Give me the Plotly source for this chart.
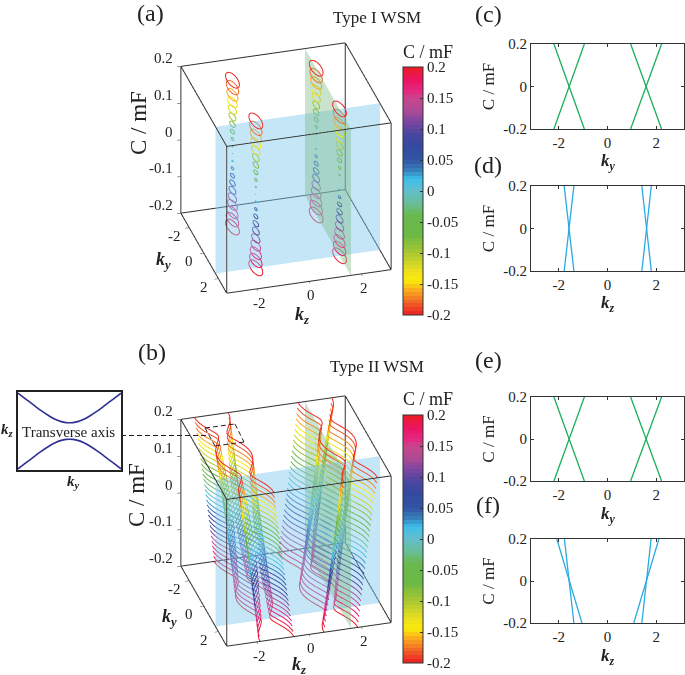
import numpy as np
import plotly.graph_objects as go

FONT = "Liberation Serif"
W, H = 685, 675
PI = 3.14159

# ---------- data ----------
cb_values = [-0.2,-0.18,-0.16,-0.145,-0.13,-0.1,-0.07,-0.04,-0.02,0,0.02,0.035,0.05,0.07,0.09,0.11,0.13,0.15,0.16,0.18,0.2]
cb_r = [237,240,250,250,240,170,105,105,105,100,60,55,50,50,70,120,175,200,230,236,237]
cb_g = [30,100,170,235,225,200,185,185,190,190,190,125,85,75,70,70,75,70,40,20,28]
cb_b = [36,40,30,10,30,50,70,80,150,205,235,185,165,160,160,160,150,140,130,100,36]
cb_ticks = [0.2,0.15,0.1,0.05,0,-0.05,-0.1,-0.15,-0.2]
cb_ticktext = ["0.2","0.15","0.1","0.05","0","-0.05","-0.1","-0.15","-0.2"]

node_kz = [-1.6, 1.6]
node_ky = [-1.6, 1.6]

k_ticks = [-2, 0, 2]
k_ticktext = ["-2", "0", "2"]
c_ticks_3d = [-0.2, -0.1, 0, 0.1, 0.2]
c_ticktext_3d = ["-0.2", "-0.1", "0", "0.1", "0.2"]

# type I rings: level, semi-axis along ky, semi-axis along kz
ring_levels = [0.2,0.18,0.16,0.14,0.12,0.1,0.08,0.06,0.04,0.02,0,-0.02,-0.04,-0.06,-0.08,-0.1,-0.12,-0.14,-0.16,-0.18,-0.2]
ring_semi_ky = [0.62,0.56,0.5,0.43,0.37,0.31,0.25,0.19,0.12,0.06,0.008,0.06,0.12,0.19,0.25,0.31,0.37,0.43,0.5,0.56,0.62]
ring_semi_kz = [0.2,0.18,0.16,0.14,0.12,0.1,0.08,0.06,0.04,0.02,0.008,0.02,0.04,0.06,0.08,0.1,0.12,0.14,0.16,0.18,0.2]

# type II contours: level, shift of the pair, gap at the node
curve_levels = [0.2,0.186,0.171,0.157,0.143,0.129,0.114,0.1,0.086,0.071,0.057,0.043,0.029,0.014,0,
                -0.014,-0.029,-0.043,-0.057,-0.071,-0.086,-0.1,-0.114,-0.129,-0.143,-0.157,-0.171,-0.186,-0.2]
curve_shift = [0.378,0.352,0.323,0.297,0.27,0.244,0.215,0.189,0.163,0.134,0.108,0.081,0.055,0.026,0,
               -0.026,-0.055,-0.081,-0.108,-0.134,-0.163,-0.189,-0.215,-0.244,-0.27,-0.297,-0.323,-0.352,-0.378]
curve_gap = [0.178,0.166,0.152,0.14,0.127,0.115,0.101,0.089,0.077,0.063,0.051,0.038,0.026,0.012,0.002,
             0.012,0.026,0.038,0.051,0.063,0.077,0.089,0.101,0.115,0.127,0.14,0.152,0.166,0.178]
ky_samples = [-3.14,-2.95,-2.8,-2.65,-2.5,-2.35,-2.2,-2.1,-2.0,-1.9,-1.8,-1.7,-1.6,-1.5,-1.4,-1.3,-1.2,-1.1,-1.0,-0.8,-0.65,-0.5,-0.25,0,
              0.25,0.5,0.65,0.8,1.0,1.1,1.2,1.3,1.4,1.5,1.6,1.7,1.8,1.9,2.0,2.1,2.2,2.35,2.5,2.65,2.8,2.95,3.14]
ky_spread = [0.62,0.61,0.585,0.55,0.5,0.44,0.365,0.31,0.26,0.2,0.14,0.08,0.0,0.045,0.105,0.165,0.225,0.28,0.335,0.43,0.49,0.545,0.6,0.62,
             0.6,0.545,0.49,0.43,0.335,0.28,0.225,0.165,0.105,0.045,0.0,0.08,0.14,0.2,0.26,0.31,0.365,0.44,0.5,0.55,0.585,0.61,0.62]

# right hand panels: pairs of lines, (k at C=0.2, k at C=-0.2)
levels_ends = [0.2, -0.2]
c_lines = [[-2.2,-0.95],[-0.95,-2.2],[0.95,2.22],[2.22,0.95]]
d_lines = [[-1.78,-1.38],[-1.38,-1.78],[1.41,1.8],[1.8,1.41]]
e_lines = [[-2.2,-0.95],[-0.95,-2.2],[0.95,2.22],[2.22,0.95]]
f_lines = [[-2.08,-1.05],[-1.77,-1.38],[2.11,1.08],[1.79,1.41]]

# inset
inset_x = [-1,-0.85,-0.7,-0.55,-0.4,-0.28,-0.16,-0.07,0,0.07,0.16,0.28,0.4,0.55,0.7,0.85,1]
inset_y = [0.97,0.82,0.67,0.52,0.39,0.3,0.24,0.215,0.21,0.215,0.24,0.3,0.39,0.52,0.67,0.82,0.97]

# ---------- styles ----------
N = 64
edges = np.linspace(0, 1, N + 1)
mid = (edges[:-1] + edges[1:]) / 2
v = -0.2 + 0.4 * mid
R = np.interp(v, cb_values, cb_r); G = np.interp(v, cb_values, cb_g); B = np.interp(v, cb_values, cb_b)
colorscale = []
for i in range(N):
    c = f"rgb({int(R[i])},{int(G[i])},{int(B[i])})"
    colorscale += [[float(edges[i]), c], [float(edges[i + 1]), c]]

def coloraxis(ypx0, ypx1):
    return dict(cmin=-0.2, cmax=0.2, colorscale=colorscale,
                colorbar=dict(x=403/W, xanchor="left", xpad=0, ypad=0, thickness=20, thicknessmode="pixels",
                              y=1-ypx1/H, yanchor="bottom", len=(ypx1-ypx0)/H, lenmode="fraction",
                              outlinewidth=1, outlinecolor="#333", tickmode="array",
                              tickvals=cb_ticks, ticktext=cb_ticktext, ticks="inside", ticklen=3,
                              tickcolor="#333", tickfont=dict(family=FONT, size=15, color="#222")))

fig = go.Figure()

def planes(scene):
    fig.add_trace(go.Surface(x=[-PI, PI], y=[node_ky[1], node_ky[1]], z=[[-0.2, -0.2], [0.2, 0.2]],
                             surfacecolor=[[0, 0], [0, 0]], colorscale=[[0, "rgb(125,200,238)"], [1, "rgb(125,200,238)"]],
                             showscale=False, opacity=0.45, scene=scene, hoverinfo="skip",
                             lighting=dict(ambient=1, diffuse=0, specular=0, fresnel=0)))
    fig.add_trace(go.Surface(x=[node_kz[1], node_kz[1]], y=[-PI, PI], z=[[-0.2, 0.2], [-0.2, 0.2]],
                             surfacecolor=[[0, 0], [0, 0]], colorscale=[[0, "rgb(120,185,130)"], [1, "rgb(120,185,130)"]],
                             showscale=False, opacity=0.4, scene=scene, hoverinfo="skip",
                             lighting=dict(ambient=1, diffuse=0, specular=0, fresnel=0)))

def line3d(xs, ys, zs, colors, scene, cax, width=2):
    fig.add_trace(go.Scatter3d(x=xs, y=ys, z=zs, mode="lines", scene=scene, hoverinfo="skip", showlegend=False,
                               line=dict(width=width, color=colors, coloraxis=cax)))

def box(scene):
    # the twelve edges of the axes box, taken from the axis ranges
    X = [-PI, PI]; Y = [-PI, PI]; Z = [-0.2, 0.2]
    xs, ys, zs = [], [], []
    for a in Y:
        for b in Z:
            xs += [X[0], X[1], None]; ys += [a, a, None]; zs += [b, b, None]
    for a in X:
        for b in Z:
            xs += [a, a, None]; ys += [Y[0], Y[1], None]; zs += [b, b, None]
    for a in X:
        for b in Y:
            xs += [a, a, None]; ys += [b, b, None]; zs += [Z[0], Z[1], None]
    fig.add_trace(go.Scatter3d(x=xs, y=ys, z=zs, mode="lines", scene=scene, hoverinfo="skip", showlegend=False,
                               line=dict(width=2, color="#333")))

planes("scene")
planes("scene2")
box("scene")
box("scene2")

# rings
theta = np.linspace(0, 2 * np.pi, 41)
for lv, sy, sz in zip(ring_levels, ring_semi_ky, ring_semi_kz):
    for k0 in node_kz:
        for y0 in node_ky:
            xs = k0 + sz * np.cos(theta)
            ys = y0 + sy * np.sin(theta)
            line3d(xs, ys, [lv] * len(xs), [-lv] * len(xs), "scene", "coloraxis")

# type II contours
sp = np.array(ky_samples); wd = np.array(ky_spread)
for lv, sh, gp in zip(curve_levels, curve_shift, curve_gap):
    half = np.sqrt(gp ** 2 + wd ** 2)
    for sign_pair, k0 in ((-1, node_kz[0]), (1, node_kz[1])):
        for sgn in (-1, 1):
            xs = k0 + sign_pair * sh + sgn * half
            line3d(xs, sp, [lv] * len(xs), [-lv] * len(xs), "scene2", "coloraxis2")

# 2D panels
GREEN = "#1aaf5d"; BLUE = "#29abe2"
PANELS = [("x", "y", c_lines, GREEN), ("x2", "y2", d_lines, BLUE), ("x3", "y3", e_lines, GREEN), ("x4", "y4", f_lines, BLUE)]
for xa, ya, lines, col in PANELS:
    for ln in lines:
        fig.add_trace(go.Scatter(x=ln, y=levels_ends, mode="lines", xaxis=xa, yaxis=ya, hoverinfo="skip",
                                 showlegend=False, line=dict(color=col, width=1.3)))

# inset
NAVY = "#2e3192"
fig.add_trace(go.Scatter(x=inset_x, y=inset_y, mode="lines", xaxis="x5", yaxis="y5", hoverinfo="skip",
                         showlegend=False, line=dict(color=NAVY, width=1.6, shape="spline")))
fig.add_trace(go.Scatter(x=inset_x, y=[-a for a in inset_y], mode="lines", xaxis="x5", yaxis="y5", hoverinfo="skip",
                         showlegend=False, line=dict(color=NAVY, width=1.6, shape="spline")))

def ax3(tickvals, rng):
    return dict(range=rng, tickmode="array", tickvals=tickvals, showticklabels=False, title=dict(text=""),
                showgrid=False, zeroline=False, showbackground=False, showspikes=False,
                showline=False, ticks="inside", ticklen=4, tickcolor="#333")

def tick_notes():
    # tick labels anchored to the axis values of the scene, nudged by pixels
    out = []
    def lab(text, x, y, z, xs, ys, anchor):
        out.append(dict(text=text, x=x, y=y, z=z, xshift=xs, yshift=ys, xanchor=anchor, yanchor="middle",
                        showarrow=False, font=dict(family=FONT, size=15, color="#222")))
    for val, txt in zip(c_ticks_3d, c_ticktext_3d):
        lab(txt, -PI, -PI, val, -5, 8, "right")
    for val, txt in zip(k_ticks, k_ticktext):
        lab(txt, val, PI, -0.2, 3, -14, "center")
        lab(txt, -PI, val, -0.2, -14, -8, "center")
    return out

EYE = np.array([-0.2387, -0.8325, 0.5])
def scene(cy, r=1.72):
    e = EYE * r
    half = 150
    return dict(domain=dict(x=[(285.5-half)/W, (285.5+half)/W], y=[1-(cy+half)/H, 1-(cy-half)/H]),
                xaxis=ax3(k_ticks, [-PI, PI]),
                yaxis=ax3(k_ticks, [PI, -PI]),
                zaxis=ax3(c_ticks_3d, [-0.2, 0.2]),
                aspectmode="manual", aspectratio=dict(x=1.14, y=1.11, z=1.13),
                annotations=tick_notes(),
                camera=dict(eye=dict(x=float(e[0]), y=float(e[1]), z=float(e[2])), center=dict(x=0, y=0, z=0),
                            up=dict(x=0, y=0, z=1), projection=dict(type="orthographic")))

def ax2(x0, x1, anchor, tickvals, ticktext, rng, title, tsize, horiz=True):
    d0, d1 = (x0/W, x1/W) if horiz else (1-x1/H, 1-x0/H)
    return dict(domain=[d0, d1], range=rng, anchor=anchor, tickmode="array", tickvals=tickvals, ticktext=ticktext,
                ticks="inside", ticklen=3, tickcolor="#333", showline=True, linecolor="#333", linewidth=1.2, mirror="ticks",
                showgrid=False, zeroline=False, tickfont=dict(family=FONT, size=15, color="#222"),
                title=dict(text=title, font=dict(family=FONT, size=tsize, color="#222"), standoff=4))

KY = "<b><i>k</i></b><sub><b><i>y</i></b></sub>"
KZ = "<b><i>k</i></b><sub><b><i>z</i></b></sub>"
CM = "C / mF"
xt = dict(tickvals=[-2, 0, 2], ticktext=["-2", "0", "2"], rng=[-PI, PI])
yt = dict(tickvals=[-0.2, 0, 0.2], ticktext=["-0.2", "0", "0.2"], rng=[-0.2, 0.2])

layout = dict(
    width=W, height=H, margin=dict(l=0, r=0, t=0, b=0, autoexpand=False), paper_bgcolor="white", plot_bgcolor="white",
    showlegend=False, hovermode=False,
    font=dict(family=FONT, color="#222"),
    scene=scene(168), scene2=scene(521),
    coloraxis=coloraxis(67, 315), coloraxis2=coloraxis(415, 663),
    xaxis=ax2(531, 684, "y", title="", tsize=17, **xt),
    yaxis=ax2(44, 129, "x", title=CM, tsize=17, horiz=False, **yt),
    xaxis2=ax2(531, 684, "y2", title="", tsize=17, **xt),
    yaxis2=ax2(186, 271, "x2", title=CM, tsize=17, horiz=False, **yt),
    xaxis3=ax2(531, 684, "y3", title="", tsize=17, **xt),
    yaxis3=ax2(397, 481, "x3", title=CM, tsize=17, horiz=False, **yt),
    xaxis4=ax2(531, 684, "y4", title="", tsize=17, **xt),
    yaxis4=ax2(539, 623, "x4", title=CM, tsize=17, horiz=False, **yt),
    xaxis5=dict(domain=[18/W, 121/W], range=[-1, 1], anchor="y5", showticklabels=False, ticks="", showgrid=False,
                zeroline=False, showline=True, mirror=True, linecolor="#222", linewidth=1.6),
    yaxis5=dict(domain=[1-470/H, 1-392/H], range=[-1, 1], anchor="x5", showticklabels=False, ticks="", showgrid=False,
                zeroline=False, showline=True, mirror=True, linecolor="#222", linewidth=1.6),
)

def note(text, x, y, size, angle=0):
    return dict(text=text, x=x/W, y=1-y/H, xref="paper", yref="paper", showarrow=False, textangle=angle,
                xanchor="center", yanchor="middle", font=dict(family=FONT, size=size, color="#222"))

def dashes(p0, p1, on=5, off=3):
    # dashed overlay line, made of short annotation arrows so it stays above the 3D canvas
    p0 = np.array(p0, float); p1 = np.array(p1, float)
    L = np.hypot(*(p1 - p0)); u = (p1 - p0) / L
    out = []; s = 0.0
    while s < L:
        a = p0 + u * s; b = p0 + u * min(s + on, L)
        out.append(dict(text=" ", x=float(b[0])/W, y=1-float(b[1])/H, xref="paper", yref="paper",
                        ax=float(a[0]-b[0]), ay=float(a[1]-b[1]), axref="pixel", ayref="pixel",
                        font=dict(size=1), borderpad=0, borderwidth=0,
                        showarrow=True, arrowhead=0, arrowwidth=1, arrowcolor="#222", standoff=0, startstandoff=0))
        s += on + off
    return out

annotations = [
    note("(a)", 150, 13, 24), note("(b)", 152, 352, 24),
    note("(c)", 488, 14, 24), note("(d)", 488, 165, 24), note("(e)", 488, 360, 24), note("(f)", 488, 505, 24),
    note("Type I WSM", 377, 18, 17), note("Type II WSM", 377, 366, 17),
    note(CM, 428, 52, 18), note(CM, 428, 399, 18),
    note(CM, 138, 123, 23, -90), note(CM, 137, 495, 23, -90),
    note(KZ, 302, 315, 18), note(KY, 163, 260, 18),
    note(KZ, 299, 665, 18), note(KY, 169, 617, 18),
    note(KY, 608, 162, 17), note(KZ, 608, 304, 17), note(KY, 608, 515, 17), note(KZ, 608, 657, 17),
    note("Transverse axis", 68, 432, 15),
    note(KZ, 8, 430, 15), note(KY, 73, 482, 15),
]
quad = [(205, 428), (235, 424), (244, 442), (215, 446)]
for i in range(4):
    annotations += dashes(quad[i], quad[(i + 1) % 4])
annotations += dashes((121, 435.5), (208, 435.5))
layout["annotations"] = annotations
fig.update_layout(**layout)
fig.write_html("out.html", config=dict(displayModeBar=False),
               post_script="document.body.style.margin='0';document.documentElement.style.overflow='hidden';")
